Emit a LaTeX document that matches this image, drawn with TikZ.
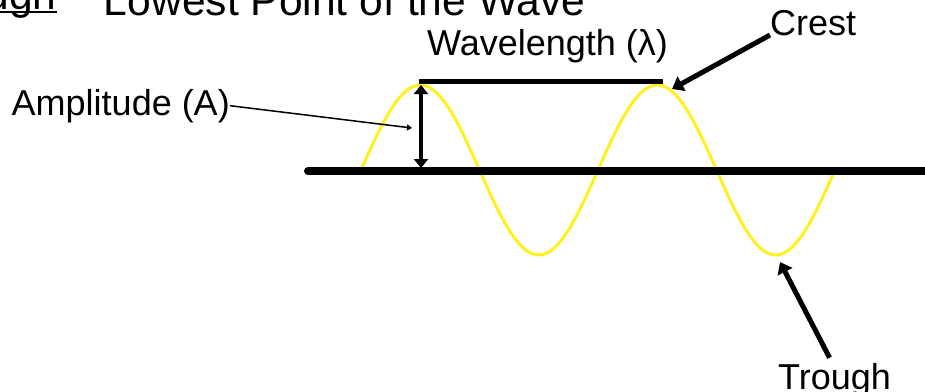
\documentclass[tikz,border=0pt]{standalone}
\usepackage{fontspec}
\setmainfont{Liberation Sans}
\usetikzlibrary{arrows.meta}
\definecolor{waveyellow}{RGB}{255,240,30}
\newcommand{\ulword}[1]{\setbox0\hbox{#1}\rlap{\rule[-3.5pt]{\wd0}{2.5pt}}\box0\relax}

\begin{document}
\begin{tikzpicture}[x=1pt,y=-1pt,
  tag/.style={font=\fontsize{36}{40}\selectfont, inner sep=0pt},
  pointer/.style={line width=5pt, -{Triangle[length=11pt,width=16pt]}},
  wave/.style={waveyellow, line width=3pt},
  ]
\useasboundingbox (0,0) rectangle (925,391);
\clip (0,0) rectangle (925,391);
% title, cut off at the top
\node[font=\fontsize{42.6}{48}\selectfont, inner sep=0pt, anchor=base west] (title) at (-77,15)
  {\raisebox{5.5pt}{\ulword{Trough} --} Lowest Point of the Wave};
% labels
\node[tag, anchor=base east] (amp) at (230,115) {Amplitude (A)};
\node[tag, anchor=base west] (wlen) at (427,55) {Wavelength (λ)};
\node[tag, anchor=base west] (crest) at (770,35) {Crest};
\node[tag, anchor=base west] (trough) at (778,389) {Trough};
% points on the wave
\coordinate (axisL) at (308,171);
\coordinate (axisR) at (935,171);
\coordinate (ampTop) at (421,85);
\coordinate (ampBot) at (421,168);
\coordinate (ampMid) at (412,128);
\coordinate (wlL) at (419,81);
\coordinate (wlR) at (663,81);
\coordinate (crestTip) at (672,89);
\coordinate (troughTip) at (780,262);
% the wave
\draw[wave] plot[domain=361:834, samples=120, smooth] (\x, {170-85*sin((\x-361)/237*360)});
\draw[line width=8pt, line cap=round] (axisL) -- (axisR);
\draw[line width=5pt] (wlL) -- (wlR);
\draw[line width=4pt, {Triangle[length=9pt,width=14pt]}-{Triangle[length=9pt,width=14pt]}] (ampTop) -- (ampBot);
% pointers
\draw[line width=1.5pt, -{Triangle[length=5pt,width=6pt]}] (amp.east) -- (ampMid);
\draw[pointer] (crest.base west) -- (crestTip);
\draw[pointer] ([xshift=-5pt,yshift=5pt]trough.north) -- (troughTip);
\end{tikzpicture}
\end{document}
